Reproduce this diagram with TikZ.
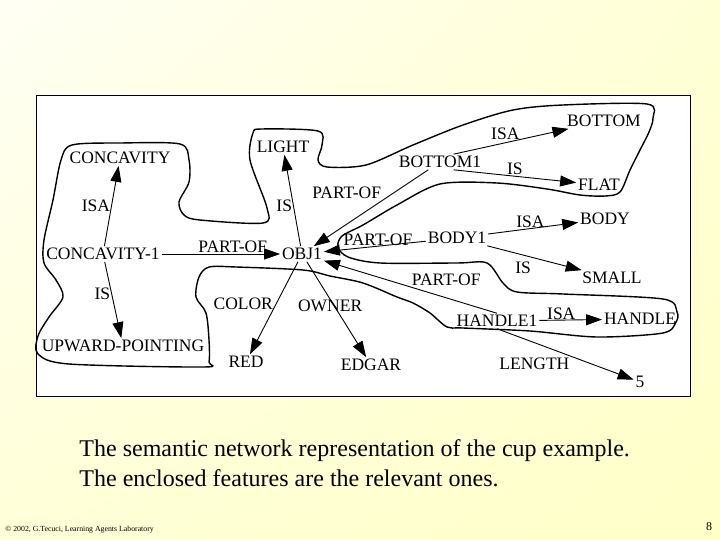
\documentclass[tikz,border=0pt]{standalone}
\usepackage{fontspec}
\setmainfont{Liberation Serif}
\usetikzlibrary{arrows.meta,shadings}
\definecolor{slideTL}{HTML}{FFFFD6}
\definecolor{slideTR}{HTML}{FFFFF4}
\definecolor{slideBL}{HTML}{FFFFC8}
\definecolor{slideBR}{HTML}{FFFFD8}
\tikzstyle{concept} = [inner sep=1.5pt, font=\fontsize{17.5}{19}\selectfont]
\tikzstyle{rel} = [inner sep=1pt, font=\fontsize{17.5}{19}\selectfont]
\tikzstyle{enclosure} = [-, line width=1.4pt, line join=round]

\begin{document}
\begin{tikzpicture}[x=1pt,y=-1pt,->,>={Triangle[length=16pt,width=11pt]},
                    line width=0.9pt]
  \useasboundingbox (0,0) rectangle (720,540);
  % keys swapped left/right: the flipped y axis mirrors this shading
  \shade[upper left=slideTR,upper right=slideTL,lower left=slideBR,lower right=slideBL]
    (0,0) rectangle (720,540);
  \draw[-,fill=white,line width=1pt] (36,96) rectangle (690,396);

  % the relevant features
  \draw[enclosure] plot[smooth cycle,tension=0.5] coordinates {
    (44,240) (53,200) (61,160) (72,145) (120,143) (180,144) (189,160) (189,182)
    (179,202) (184,215) (200,220) (263,223) (267,208) (250,160) (253,133) (262,129)
    (318,131) (322,145) (318,160) (327,167) (366,165) (413,145) (463,125) (513,110)
    (563,105) (647,104) (653,118) (649,132) (640,150) (630,170) (620,192) (605,196)
    (580,195) (547,189) (497,183) (440,184) (397,205) (363,225) (342,236) (338,247)
    (348,257) (380,263) (457,263) (487,263) (503,283) (517,292) (563,294) (663,299)
    (677,312) (676,322) (663,333) (597,337) (530,331) (463,328) (447,327) (430,313)
    (413,303) (397,297) (363,283) (330,276) (303,270) (236,267) (209,267) (199,277)
    (196,297) (206,313) (209,340) (209,362) (203,367) (69,364) (38,354) (38,336)
    (49,317) (63,297) (56,280) (44,263)};

  \node[concept] (concavity) at (120,158) {CONCAVITY};
  \node[concept] (light) at (283,147) {LIGHT};
  \node[concept] (bottom) at (604,121) {BOTTOM};
  \node[concept] (bottomOne) at (440,162) {BOTTOM1};
  \node[concept] (flat) at (599,185) {FLAT};
  \node[concept] (body) at (605,219) {BODY};
  \node[concept] (concavityOne) at (103,254) {CONCAVITY-1};
  \node[concept] (obj) at (302,254) {OBJ1};
  \node[concept] (bodyOne) at (457,238) {BODY1};
  \node[concept] (small) at (612,278) {SMALL};
  \node[concept] (handleOne) at (497,321) {HANDLE1};
  \node[concept] (handle) at (640,319) {HANDLE};
  \node[concept] (upward) at (123,346) {UPWARD-POINTING};
  \node[concept] (red) at (246,362) {RED};
  \node[concept] (edgar) at (371,365) {EDGAR};
  \node[concept] (five) at (640,382) {5};

  \path (concavityOne) edge node[rel,pos=0.5,left] {ISA} (concavity)
        (concavityOne) edge node[rel,pos=0.42,left] {IS} (upward)
        (concavityOne) edge node[rel,pos=0.6,above] {PART-OF} (obj)
        (obj) edge node[rel,pos=0.44,left] {IS} (light)
        (bottomOne) edge node[rel,pos=0.4,above left] {PART-OF} (obj)
        (bottomOne.30) edge node[rel,pos=0.45,above,inner sep=2.5pt] {ISA} (bottom)
        (bottomOne.-30) edge node[rel,pos=0.5,above] {IS} (flat)
        (bodyOne) edge node[rel,pos=0.47,above,inner sep=0pt] {PART-OF} (obj)
        (bodyOne) edge node[rel,pos=0.47,above,inner sep=0pt] {ISA} (body)
        (bodyOne) edge node[rel,pos=0.38,below,inner sep=6pt] {IS} (small)
        (handleOne.north) edge node[rel,pos=0.5,above right] {PART-OF} (obj)
        (handleOne) edge node[rel,pos=0.35,above,inner sep=0pt] {ISA} (handle)
        (handleOne.south) edge node[rel,pos=0.54,below left] {LENGTH} (five)
        (obj) edge node[rel,pos=0.45,left,inner sep=3pt] {COLOR} (red)
        (obj) edge node[rel,pos=0.46,xshift=-4pt] {OWNER} (edgar);

  \node[anchor=west,inner sep=0pt,font=\fontsize{24}{28}\selectfont] (capOne) at (79,451)
    {The semantic network representation of the cup example.};
  \node[anchor=west,inner sep=0pt,font=\fontsize{24}{28}\selectfont] (capTwo) at (79,478)
    {The enclosed features are the relevant ones.};
  \node[anchor=west,inner sep=0pt,font=\fontsize{7.8}{9}\selectfont] (footer) at (5,530)
    {© 2002, G.Tecuci, Learning Agents Laboratory};
  \node[font=\fontsize{12}{14}\selectfont] (pageNo) at (709,527) {8};
\end{tikzpicture}
\end{document}
